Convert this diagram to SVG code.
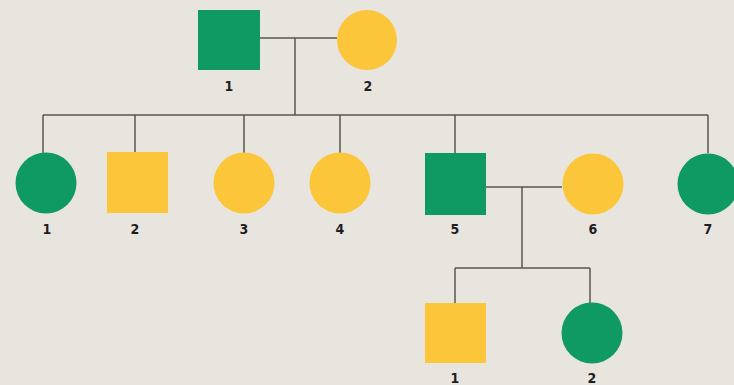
<svg xmlns="http://www.w3.org/2000/svg" width="734" height="385" viewBox="0 0 734 385">
<style>
.g{fill:#0f9a63}
.y{fill:#fcc63a}
.ln{stroke:#595650;stroke-width:1.5;fill:none}
.lb{font-family:"Liberation Sans Narrow","DejaVu Sans Condensed","Liberation Sans",sans-serif;font-weight:bold;font-size:14px;fill:#1e1e1e;text-anchor:middle}
</style>
<rect x="0" y="0" width="734" height="385" fill="#e8e5de"/>
<g id="connectors" class="ln">
<path d="M260 38H337"/>
<path d="M295 38V115"/>
<path d="M43 115H708"/>
<path d="M43 115V153"/>
<path d="M135 115V153"/>
<path d="M244 115V153"/>
<path d="M340 115V153"/>
<path d="M455 115V153"/>
<path d="M708 115V153"/>
<path d="M486 187H562"/>
<path d="M522 187V268"/>
<path d="M455 268H590"/>
<path d="M455 268V303"/>
<path d="M590 268V303"/>
</g>
<g id="g1-1"><rect class="g" x="198" y="10" width="62" height="60"/><text class="lb" x="229" y="91">1</text></g>
<g id="g1-2"><circle class="y" cx="367" cy="40" r="30"/><text class="lb" x="368" y="91">2</text></g>
<g id="g2-1"><circle class="g" cx="46" cy="183" r="30.5"/><text class="lb" x="47" y="234">1</text></g>
<g id="g2-2"><rect class="y" x="107" y="152" width="61" height="61"/><text class="lb" x="135" y="234">2</text></g>
<g id="g2-3"><circle class="y" cx="244" cy="183" r="30.5"/><text class="lb" x="244" y="234">3</text></g>
<g id="g2-4"><circle class="y" cx="340" cy="183" r="30.5"/><text class="lb" x="340" y="234">4</text></g>
<g id="g2-5"><rect class="g" x="425" y="153" width="61" height="62"/><text class="lb" x="455" y="234">5</text></g>
<g id="g2-6"><circle class="y" cx="593" cy="184" r="30.5"/><text class="lb" x="593" y="234">6</text></g>
<g id="g2-7"><circle class="g" cx="708" cy="184" r="30.5"/><text class="lb" x="708" y="234">7</text></g>
<g id="g3-1"><rect class="y" x="425" y="303" width="61" height="60"/><text class="lb" x="455" y="383">1</text></g>
<g id="g3-2"><circle class="g" cx="592" cy="333" r="30.5"/><text class="lb" x="592" y="383">2</text></g>
</svg>
